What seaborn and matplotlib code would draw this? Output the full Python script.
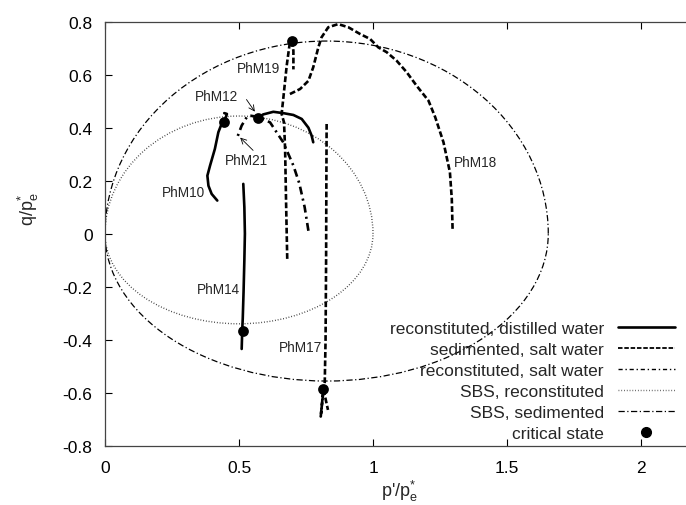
import numpy as np
import pandas as pd
import matplotlib
matplotlib.use("Agg")
import matplotlib.pyplot as plt
from matplotlib.patches import Arc
from matplotlib.lines import Line2D
import seaborn as sns

# ---------------- data ----------------
phm10_p = [0.419, 0.398, 0.386, 0.382, 0.392, 0.410, 0.423, 0.435, 0.444, 0.455, 0.445]
phm10_q = [0.125, 0.150, 0.181, 0.219, 0.257, 0.320, 0.383, 0.414, 0.420, 0.452, 0.455]

phm12_p = [0.777, 0.771, 0.759, 0.734, 0.703, 0.665, 0.628, 0.590, 0.570]
phm12_q = [0.345, 0.370, 0.400, 0.433, 0.448, 0.455, 0.460, 0.450, 0.435]

phm14_p = [0.516, 0.520, 0.522, 0.520, 0.517, 0.514, 0.512, 0.510]
phm14_q = [0.188, 0.100, 0.000, -0.100, -0.220, -0.320, -0.366, -0.435]

phm19_p = [0.680, 0.676, 0.672, 0.668, 0.659, 0.665, 0.678, 0.688, 0.697, 0.703, 0.703]
phm19_q = [-0.095, 0.100, 0.320, 0.420, 0.452, 0.508, 0.634, 0.709, 0.728, 0.690, 0.620]

phm18_p = [0.690, 0.728, 0.759, 0.777, 0.796, 0.808, 0.833, 0.870, 0.908, 0.951,
           0.989, 1.020, 1.051, 1.088, 1.126, 1.163, 1.207, 1.232, 1.263, 1.287,
           1.294, 1.297]
phm18_q = [0.527, 0.546, 0.577, 0.628, 0.703, 0.741, 0.779, 0.791, 0.779, 0.754,
           0.735, 0.703, 0.685, 0.653, 0.609, 0.558, 0.502, 0.440, 0.345, 0.232,
           0.131, 0.015]

phm17_p = [0.827, 0.826, 0.825, 0.823, 0.820, 0.812, 0.805, 0.815, 0.832]
phm17_q = [0.414, 0.200, -0.100, -0.400, -0.560, -0.620, -0.690, -0.586, -0.665]

phm21_p = [0.759, 0.745, 0.725, 0.703, 0.665, 0.616, 0.575, 0.545, 0.529, 0.510, 0.491]
phm21_q = [0.011, 0.100, 0.190, 0.257, 0.345, 0.420, 0.440, 0.445, 0.440, 0.408, 0.357]

crit_p = [0.444, 0.570, 0.697, 0.514, 0.815]
crit_q = [0.420, 0.435, 0.728, -0.366, -0.586]

# state boundary surfaces: (p-center, p-half-width, q-top, q-bottom)
sbs_recon = (0.500, 0.500, 0.444, -0.340)
sbs_sedim = (0.827, 0.827, 0.727, -0.556)

path_labels = ["PhM19", "PhM12", "PhM21", "PhM10", "PhM18", "PhM14", "PhM17"]
label_p = [0.571, 0.417, 0.529, 0.292, 1.381, 0.423, 0.728]
label_q = [0.625, 0.521, 0.278, 0.158, 0.269, -0.209, -0.426]

xticks = [0, 0.5, 1, 1.5, 2]
xticklabels = ["0", "0.5", "1", "1.5", "2"]
yticks = [-0.8, -0.6, -0.4, -0.2, 0, 0.2, 0.4, 0.6, 0.8]
yticklabels = ["-0.8", "-0.6", "-0.4", "-0.2", "0", "0.2", "0.4", "0.6", "0.8"]

# ---------------- style ----------------
sns.set_style("ticks")
plt.rcParams["font.family"] = ["Liberation Sans", "DejaVu Sans"]
plt.rcParams["axes.unicode_minus"] = False
plt.rcParams["mathtext.fontset"] = "custom"
plt.rcParams["mathtext.rm"] = "Liberation Sans"
plt.rcParams["mathtext.it"] = "Liberation Sans"

fig = plt.figure(figsize=(6.86, 5.06), dpi=100)
ax = fig.add_axes([105 / 686, (506 - 446.7) / 506, 589.6 / 686, 424 / 506])

LW = 1.9
solid = "-"
dashed = (0, (2.2, 1.0))
dashdot = (0, (3.0, 1.6, 0.8, 1.6))


def path(p, q, ls):
    df = pd.DataFrame({"p": p, "q": q})
    sns.lineplot(data=df, x="p", y="q", sort=False, estimator=None, ax=ax,
                 color="black", linewidth=LW, linestyle=ls)


path(phm10_p, phm10_q, solid)
path(phm12_p, phm12_q, solid)
path(phm14_p, phm14_q, solid)
path(phm19_p, phm19_q, dashed)
path(phm18_p, phm18_q, dashed)
path(phm17_p, phm17_q, dashed)
path(phm21_p, phm21_q, dashdot)

# SBS curves: upper and lower half-ellipses
sbs_styles = [(sbs_recon, (0, (0.6, 1.4)), "#333333", 1.0),
              (sbs_sedim, (0, (5, 2, 1, 2)), "black", 0.9)]
for (pc, a, qt, qb), ls, col, lw in sbs_styles:
    ax.add_patch(Arc((pc, 0), 2 * a, 2 * qt, theta1=0, theta2=180,
                     linestyle=ls, color=col, linewidth=lw))
    ax.add_patch(Arc((pc, 0), 2 * a, 2 * abs(qb), theta1=180, theta2=360,
                     linestyle=ls, color=col, linewidth=lw))

sns.scatterplot(x=crit_p, y=crit_q, ax=ax, color="black", s=60,
                edgecolor="black", linewidth=0, zorder=5)

for t, x, y in zip(path_labels, label_p, label_q):
    ax.text(x, y, t, fontsize=9.8, ha="center", va="center")

ax.annotate("", xy=(0.565, 0.452), xytext=(0.522, 0.515),
            arrowprops=dict(arrowstyle="->", lw=0.6, color="black"))
ax.annotate("", xy=(0.497, 0.370), xytext=(0.560, 0.307),
            arrowprops=dict(arrowstyle="->", lw=0.6, color="black"))

ax.set_xlim(0, 2.2)
ax.set_ylim(-0.8, 0.8)
ax.set_xticks(xticks)
ax.set_xticklabels(xticklabels)
ax.set_yticks(yticks)
ax.set_yticklabels(yticklabels)
ax.tick_params(direction="in", length=5, width=0.8, labelsize=12.5,
               top=True, right=True, colors="black")
ax.tick_params(axis="x", pad=10)
ax.tick_params(axis="y", pad=9)
for s in ax.spines.values():
    s.set_linewidth(0.9)
    s.set_color("#444444")

ax.set_xlabel(r"p'/p$_\mathrm{e}^{*}$", fontsize=13)
ax.set_ylabel(r"q/p$_\mathrm{e}^{*}$", fontsize=13)
ax.xaxis.set_label_coords(0.5, -0.075)
ax.yaxis.set_label_coords(-0.108, 0.56)

handles = [
    Line2D([], [], color="black", lw=LW, linestyle=solid),
    Line2D([], [], color="black", lw=1.3, linestyle=(0, (2.5, 1.0))),
    Line2D([], [], color="black", lw=1.0, linestyle=(0, (3, 2, 1, 2))),
    Line2D([], [], color="#555555", lw=1.0, linestyle=(0, (0.6, 1.4))),
    Line2D([], [], color="black", lw=0.9, linestyle=(0, (5, 2, 1, 2))),
    Line2D([], [], color="black", lw=0, marker="o", markersize=7),
]
labels = ["reconstituted, distilled water", "sedimented, salt water",
          "reconstituted, salt water", "SBS, reconstituted",
          "SBS, sedimented", "critical state"]
ax.legend(handles, labels, loc="lower right", bbox_to_anchor=(0.967, 0.012),
          frameon=False, markerfirst=False, fontsize=12.5, handlelength=3.3,
          handletextpad=0.8, labelspacing=0.33, borderpad=0, borderaxespad=0)

fig.savefig("out.png", dpi=100)
